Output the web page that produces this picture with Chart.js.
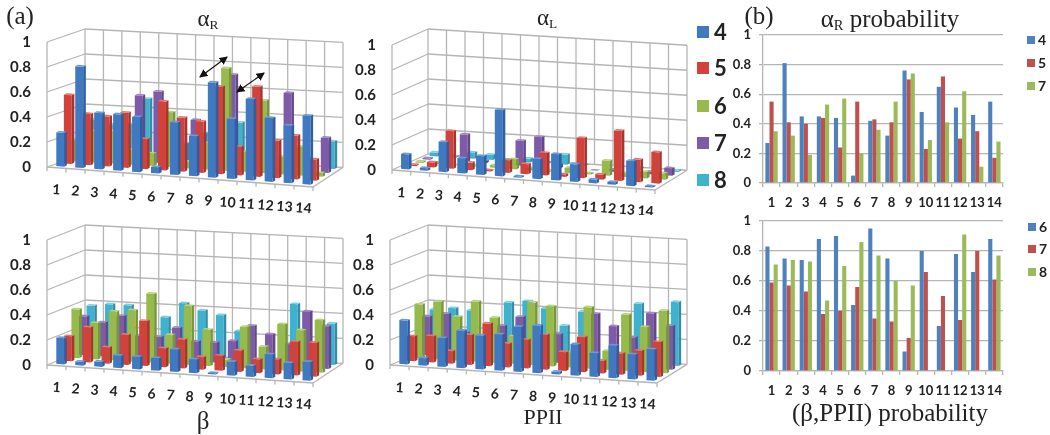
<!DOCTYPE html>
<html>
<head>
<meta charset="utf-8">
<script src="https://cdn.jsdelivr.net/npm/chart.js@4"></script>
<style>
  html, body { margin: 0; background: #fff; }
  #page { position: relative; width: 1050px; height: 435px; overflow: hidden; background: #fff; }
  canvas { position: absolute; }
  .t { position: absolute; font-family: "Liberation Serif", serif; color: #222; white-space: nowrap; line-height: 1; transform: translate(-50%, -50%); }
  .t sub { font-size: 0.58em; vertical-align: -0.25em; line-height: 0; }
  .lg { position: absolute; font-family: Lato, sans-serif; font-weight: 700; color: #222; line-height: 1; transform: translateY(-50%); }
  .sw { position: absolute; transform: translateY(-50%); }
  svg { position: absolute; left: 0; top: 0; }
</style>
</head>
<body>
<div id="page">
  <canvas id="alphaR" style="left:0;top:0" width="345" height="215"></canvas>
  <canvas id="alphaL" style="left:345px;top:0" width="345" height="215"></canvas>
  <canvas id="beta" style="left:0;top:215px" width="345" height="215"></canvas>
  <canvas id="ppii" style="left:345px;top:215px" width="345" height="215"></canvas>
  <canvas id="probR" style="left:725px;top:0" width="285" height="215"></canvas>
  <canvas id="probB" style="left:725px;top:205px" width="285" height="196"></canvas>

  <div class="t" style="left:20px;top:15px;font-size:25px">(a)</div>
  <div class="t" style="left:208px;top:18px;font-size:23px">&alpha;<sub>R</sub></div>
  <div class="t" style="left:547px;top:17px;font-size:23px">&alpha;<sub>L</sub></div>
  <div class="t" style="left:203px;top:420px;font-size:25px">&beta;</div>
  <div class="t" style="left:543px;top:417px;font-size:22px">PPII</div>
  <div class="t" style="left:759px;top:15px;font-size:25px">(b)</div>
  <div class="t" style="left:890px;top:18px;font-size:25px">&alpha;<sub>R</sub> probability</div>
  <div class="t" style="left:890px;top:412px;font-size:25px">(&beta;,PPII) probability</div>

  <svg width="1050" height="435">
    <defs>
      <marker id="head" viewBox="0 0 8 8" refX="7" refY="4" markerWidth="7" markerHeight="7" orient="auto-start-reverse">
        <path d="M0 0 L8 4 L0 8 Z" fill="#111"/>
      </marker>
    </defs>
    <line x1="200" y1="77" x2="227" y2="57" stroke="#111" stroke-width="1.2" marker-start="url(#head)" marker-end="url(#head)"/>
    <line x1="237" y1="92" x2="264" y2="73" stroke="#111" stroke-width="1.2" marker-start="url(#head)" marker-end="url(#head)"/>
  </svg>
</div>

<script>
const residues = ["1", "2", "3", "4", "5", "6", "7", "8", "9", "10", "11", "12", "13", "14"];
const seriesNames = ["4", "5", "6", "7", "8"];

const alphaR4 = [0.27, 0.81, 0.45, 0.45, 0.44, 0.05, 0.42, 0.32, 0.76, 0.48, 0.65, 0.51, 0.46, 0.55];
const alphaR5 = [0.55, 0.41, 0.40, 0.44, 0.24, 0.55, 0.43, 0.41, 0.70, 0.23, 0.72, 0.30, 0.35, 0.17];
const alphaR6 = [0.17, 0.25, 0.26, 0.12, 0.10, 0.44, 0.05, 0.21, 0.82, 0.16, 0.58, 0.14, 0.23, 0.03];
const alphaR7 = [0.35, 0.32, 0.19, 0.53, 0.57, 0.20, 0.36, 0.55, 0.74, 0.29, 0.41, 0.62, 0.11, 0.28];
const alphaR8 = [0.29, 0.26, 0.27, 0.48, 0.30, 0.14, 0.23, 0.40, 0.33, null, null, 0.09, null, 0.22];

const alphaL4 = [0.12, 0.02, 0.24, 0.12, 0.15, 0.53, 0.01, 0.16, 0.21, 0.14, 0.03, 0.02, 0.20, 0.01];
const alphaL5 = [0.01, 0.04, 0.30, 0.06, 0.01, 0.10, 0.08, 0.18, 0.02, 0.32, 0.04, 0.40, 0.18, 0.25];
const alphaL6 = [0.01, 0.01, 0.00, 0.01, 0.02, 0.08, 0.02, 0.01, 0.04, 0.01, 0.12, 0.03, 0.05, 0.05];
const alphaL7 = [0.01, 0.01, 0.22, 0.02, 0.03, 0.20, 0.24, 0.03, 0.01, 0.00, 0.02, 0.01, 0.02, 0.06];
const alphaL8 = [0.03, 0.01, 0.05, 0.04, 0.01, 0.03, 0.01, 0.08, 0.01, null, null, 0.01, null, 0.01];

const beta4 = [0.21, 0.03, 0.04, 0.10, 0.10, 0.10, 0.18, 0.11, 0.01, 0.11, 0.09, 0.19, 0.13, 0.15];
const beta5 = [0.20, 0.28, 0.13, 0.24, 0.36, 0.15, 0.23, 0.10, 0.12, 0.17, 0.11, 0.12, 0.27, 0.27];
const beta6 = [0.39, 0.29, 0.39, 0.41, 0.55, 0.23, 0.47, 0.29, 0.06, 0.33, 0.18, 0.37, 0.33, 0.42];
const beta7 = [0.31, 0.27, 0.33, 0.18, 0.18, 0.26, 0.16, 0.16, 0.18, 0.31, 0.25, 0.18, 0.45, 0.34];
const beta8 = [0.37, 0.39, 0.39, 0.25, 0.31, 0.43, 0.38, 0.35, 0.23, null, null, 0.47, null, 0.33];

const ppii4 = [0.35, 0.06, 0.23, 0.30, 0.27, 0.29, 0.36, 0.38, 0.02, 0.25, 0.19, 0.26, 0.20, 0.25];
const ppii5 = [0.20, 0.21, 0.10, 0.24, 0.34, 0.19, 0.23, 0.28, 0.15, 0.28, 0.10, 0.17, 0.20, 0.28];
const ppii6 = [0.43, 0.46, 0.35, 0.48, 0.36, 0.22, 0.50, 0.48, 0.12, 0.49, 0.15, 0.45, 0.36, 0.50];
const ppii7 = [0.31, 0.34, 0.20, 0.15, 0.27, 0.35, 0.20, 0.23, 0.10, 0.41, 0.32, 0.24, 0.44, 0.35];
const ppii8 = [0.34, 0.36, 0.35, 0.20, 0.43, 0.45, 0.40, 0.27, 0.39, null, null, 0.48, null, 0.51];

const probR4 = [0.27, 0.81, 0.45, 0.45, 0.44, 0.05, 0.42, 0.32, 0.76, 0.48, 0.65, 0.51, 0.46, 0.55];
const probR5 = [0.55, 0.41, 0.40, 0.44, 0.24, 0.55, 0.43, 0.41, 0.70, 0.23, 0.72, 0.30, 0.35, 0.17];
const probR7 = [0.35, 0.32, 0.19, 0.53, 0.57, 0.20, 0.36, 0.55, 0.74, 0.29, 0.41, 0.62, 0.11, 0.28];

const probB6 = [0.83, 0.75, 0.74, 0.88, 0.90, 0.44, 0.95, 0.75, 0.13, 0.80, 0.30, 0.78, 0.66, 0.88];
const probB7 = [0.59, 0.57, 0.53, 0.38, 0.40, 0.56, 0.35, 0.33, 0.22, 0.66, 0.50, 0.34, 0.80, 0.61];
const probB8 = [0.71, 0.74, 0.73, 0.47, 0.70, 0.86, 0.77, 0.60, 0.57, 0, 0, 0.91, 0, 0.77];

const front = ["#3f79c2", "#d2423b", "#96bb4c", "#7e5ba8", "#3fb2cf"];
const side = ["#2f5f9e", "#a83430", "#78973a", "#634786", "#318ea6"];
const top3d = ["#6c9ad6", "#e37873", "#b7d377", "#a185c4", "#7fcfe3"];
const gridColor = "#b5b5b5";
const textColor = "#222";
const numFont = { family: "Lato, sans-serif", weight: "700" };

// draws the box, the bar depth faces and the slanted category labels
const box3d = {
  id: "box3d",
  geom(chart, d) {
    const g = chart.options.plugins.box3d;
    const a = 1 + (g.backW / chart.chartArea.width - 1) * d;
    const b = g.slopeF + (g.slopeB - g.slopeF) * d;
    const left = chart.chartArea.left;
    return { a, b, e: left - a * left + g.dx * d, f: -b * left - g.dy * d };
  },
  project(chart, px, py, d) {
    const m = this.geom(chart, d);
    return [m.a * px + m.e, m.b * px + py + m.f];
  },
  line(chart, p, q) {
    const ctx = chart.ctx;
    ctx.beginPath();
    ctx.moveTo(p[0], p[1]);
    ctx.lineTo(q[0], q[1]);
    ctx.stroke();
  },
  beforeDatasetsDraw(chart) {
    const ctx = chart.ctx, x = chart.scales.x, y = chart.scales.y;
    const area = chart.chartArea;
    ctx.save();
    ctx.strokeStyle = gridColor;
    ctx.lineWidth = 1.3;
    y.ticks.forEach(t => {
      const py = y.getPixelForValue(t.value);
      this.line(chart, this.project(chart, area.left, py, 0), this.project(chart, area.left, py, 1));
      this.line(chart, this.project(chart, area.left, py, 1), this.project(chart, area.right, py, 1));
    });
    for (let k = 0; k <= residues.length; k++) {
      const px = area.left + area.width * k / residues.length;
      this.line(chart, this.project(chart, px, area.top, 1), this.project(chart, px, area.bottom, 1));
      const base = this.project(chart, px, area.bottom, 0);
      this.line(chart, base, [base[0], base[1] + 4]);
    }
    this.line(chart, [area.left, area.top], [area.left, area.bottom]);
    this.line(chart, this.project(chart, area.left, area.bottom, 0), this.project(chart, area.right, area.bottom, 0));
    this.line(chart, this.project(chart, area.right, area.bottom, 0), this.project(chart, area.right, area.bottom, 1));
    ctx.restore();
  },
  beforeDatasetDraw(chart, args) {
    const n = chart.data.datasets.length;
    const m = this.geom(chart, (args.index + 0.5) / n);
    chart.ctx.save();
    chart.ctx.transform(m.a, m.b, 0, 1, m.e, m.f);
  },
  afterDatasetDraw(chart, args) {
    const ctx = chart.ctx;
    const data = chart.data.datasets[args.index].data;
    const bdx = 2.6, bdy = 1.6;
    args.meta.data.forEach((el, i) => {
      if (data[i] == null) return;
      const { x, y, base, width } = el.getProps(["x", "y", "base", "width"], true);
      const r = x + width / 2, l = x - width / 2;
      ctx.fillStyle = side[args.index];
      ctx.beginPath();
      ctx.moveTo(r, y);
      ctx.lineTo(r + bdx, y - bdy);
      ctx.lineTo(r + bdx, base - bdy);
      ctx.lineTo(r, base);
      ctx.closePath();
      ctx.fill();
      ctx.fillStyle = top3d[args.index];
      ctx.beginPath();
      ctx.moveTo(l, y);
      ctx.lineTo(l + bdx, y - bdy);
      ctx.lineTo(r + bdx, y - bdy);
      ctx.lineTo(r, y);
      ctx.closePath();
      ctx.fill();
    });
    ctx.restore();
  },
  afterDatasetsDraw(chart) {
    const ctx = chart.ctx, xs = chart.scales.x, area = chart.chartArea;
    const b = chart.options.plugins.box3d.slopeF;
    ctx.save();
    ctx.fillStyle = textColor;
    ctx.font = "700 14px Lato, sans-serif";
    ctx.textAlign = "center";
    ctx.textBaseline = "middle";
    residues.forEach((label, i) => {
      const p = this.project(chart, xs.getPixelForTick(i), area.bottom, 0);
      ctx.save();
      ctx.translate(p[0], p[1] + 22);
      ctx.rotate(Math.atan(b));
      ctx.fillText(label, 0, 0);
      ctx.restore();
    });
    ctx.restore();
  }
};

function panel3d(id, series, pad, geom) {
  new Chart(document.getElementById(id), {
    type: "bar",
    plugins: [box3d],
    data: {
      labels: residues,
      datasets: series.map((values, i) => ({
        label: seriesNames[i],
        data: values,
        backgroundColor: front[i],
        clip: false
      }))
    },
    options: {
      responsive: false,
      animation: false,
      layout: { padding: pad },
      datasets: { bar: { grouped: false, categoryPercentage: 1, barPercentage: 0.42 } },
      plugins: { legend: { display: false }, tooltip: { enabled: false }, box3d: geom },
      scales: {
        x: { display: false },
        y: {
          min: 0,
          max: 1,
          afterFit(s) { s.width = pad.axis; },
          grid: { display: false, drawTicks: false },
          border: { display: false },
          ticks: {
            stepSize: 0.2,
            padding: 16,
            color: textColor,
            font: { ...numFont, size: 15 },
            callback: v => String(+v.toFixed(1))
          }
        }
      }
    }
  });
}

panel3d("alphaR", [alphaR4, alphaR5, alphaR6, alphaR7, alphaR8],
  { left: 0, right: 32, top: 42, bottom: 48, axis: 47 },
  { dx: 38, dy: 13, backW: 258, slopeF: 0.0752, slopeB: 0.0504 });
panel3d("alphaL", [alphaL4, alphaL5, alphaL6, alphaL7, alphaL8],
  { left: 0, right: 35, top: 45, bottom: 45, axis: 47 },
  { dx: 36, dy: 16, backW: 259, slopeF: 0.076, slopeB: 0.0618 });
panel3d("beta", [beta4, beta5, beta6, beta7, beta8],
  { left: 0, right: 32, top: 25, bottom: 65, axis: 47 },
  { dx: 38, dy: 15, backW: 258, slopeF: 0.0677, slopeB: 0.05 });
panel3d("ppii", [ppii4, ppii5, ppii6, ppii7, ppii8],
  { left: 0, right: 33, top: 24, bottom: 65, axis: 45 },
  { dx: 38, dy: 15, backW: 259, slopeF: 0.0674, slopeB: 0.054 });

function panel2d(id, names, series, colors, pad, xHeight) {
  new Chart(document.getElementById(id), {
    type: "bar",
    data: {
      labels: residues,
      datasets: series.map((values, i) => ({ label: names[i], data: values, backgroundColor: colors[i] }))
    },
    options: {
      responsive: false,
      animation: false,
      layout: { padding: pad },
      datasets: { bar: { categoryPercentage: 0.72, barPercentage: 1 } },
      plugins: { legend: { display: false }, tooltip: { enabled: false } },
      scales: {
        x: {
          afterFit(s) { s.height = xHeight; },
          grid: { drawOnChartArea: false, color: gridColor, lineWidth: 1.3, tickLength: 4 },
          border: { color: gridColor, width: 1.3 },
          ticks: { color: textColor, padding: 8, maxRotation: 0, autoSkip: false, font: { ...numFont, size: 13 } }
        },
        y: {
          min: 0,
          max: 1,
          afterFit(s) { s.width = 38; },
          grid: { color: gridColor, lineWidth: 1.3, tickLength: 4 },
          border: { color: gridColor, width: 1.3 },
          ticks: {
            stepSize: 0.2,
            padding: 8,
            color: textColor,
            font: { ...numFont, size: 13 },
            callback: v => String(+v.toFixed(1))
          }
        }
      }
    }
  });
}

const office = ["#4f81bd", "#c0504d", "#9bbb59"];
panel2d("probR", ["4", "5", "7"], [probR4, probR5, probR7], office, { right: 3, top: 35 }, 32);
panel2d("probB", ["6", "7", "8"], [probB6, probB7, probB8], office, { right: 2, top: 16 }, 30);

// legends sit away from the plot, so they are plain html
function legend(names, colors, ys, boxX, box, textX, size) {
  const page = document.getElementById("page");
  names.forEach((name, i) => {
    const sw = document.createElement("div");
    sw.className = "sw";
    sw.style.cssText = `left:${boxX}px;top:${ys[i]}px;width:${box}px;height:${box}px;background:${colors[i]}`;
    page.appendChild(sw);
    const tx = document.createElement("div");
    tx.className = "lg";
    tx.textContent = name;
    tx.style.cssText = `left:${textX}px;top:${ys[i]}px;font-size:${size}px`;
    page.appendChild(tx);
  });
}
legend(seriesNames, front, [32, 68, 106, 143, 180], 697, 12, 714, 22);
legend(["4", "5", "7"], office, [40, 63, 86], 1027, 8, 1038, 14);
legend(["6", "7", "8"], office, [227, 249, 272], 1028, 8, 1039, 14);
</script>
</body>
</html>
